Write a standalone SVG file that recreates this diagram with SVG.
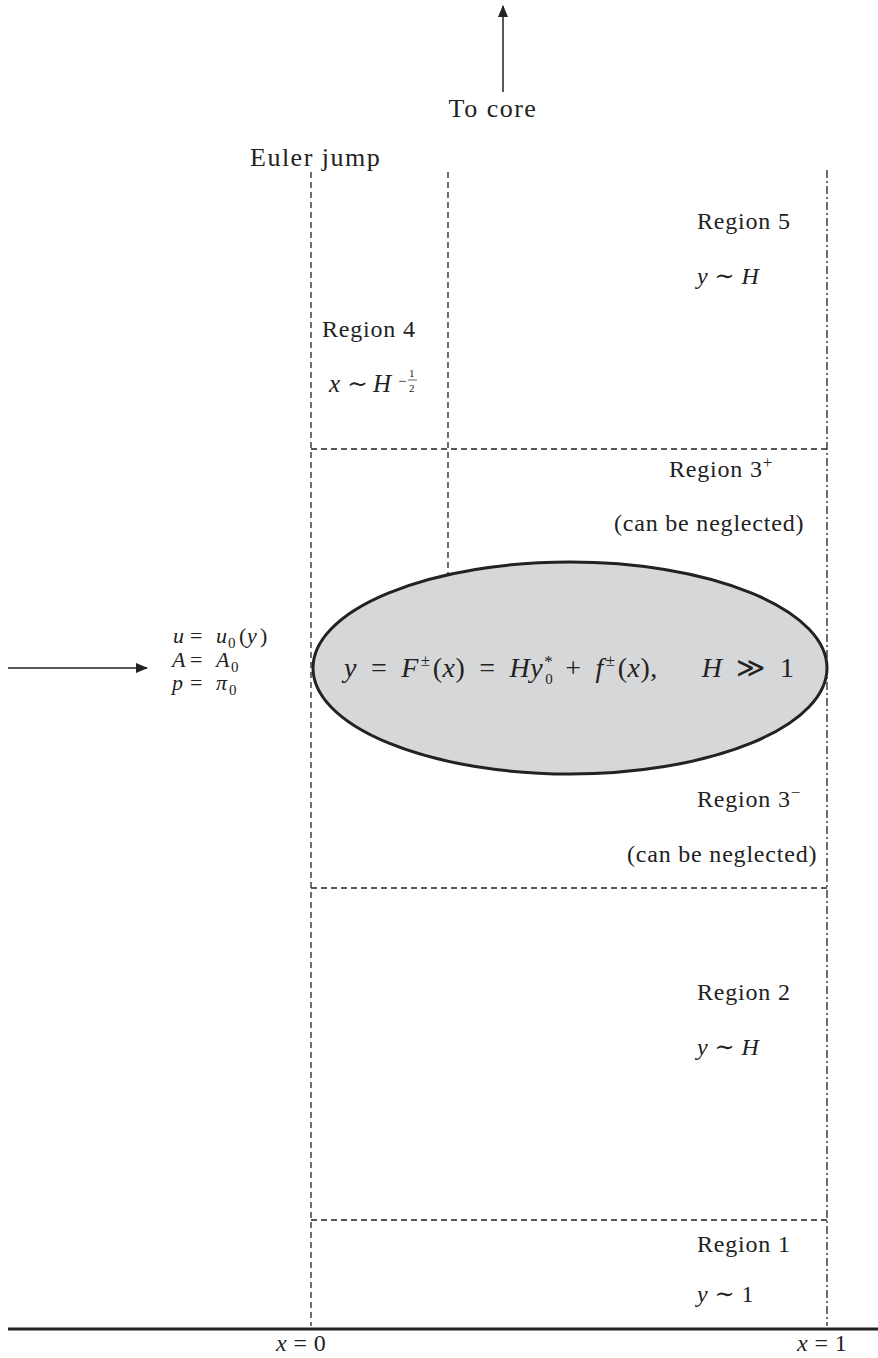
<svg xmlns="http://www.w3.org/2000/svg" width="878" height="1358" viewBox="0 0 878 1358" font-family="'Liberation Serif', 'Times New Roman', Tinos, 'DejaVu Serif', serif">
<style>
text{font-family:"Liberation Serif","Times New Roman",Tinos,"DejaVu Serif",serif;fill:#222;font-size:24px;letter-spacing:0.8px}
.i{font-style:italic}
.dash{stroke:#222;stroke-width:1.3;stroke-dasharray:6,4;fill:none}
.dd{stroke:#222;stroke-width:1.3;stroke-dasharray:8,3,2,3;fill:none}
.eq{font-size:28px;letter-spacing:0.5px}
.sup{font-size:17px}
.in{font-size:22px;letter-spacing:0px}
.sub{font-size:15px}
</style>
<defs>
<marker id="ah" markerWidth="12" markerHeight="10" refX="11" refY="5" orient="auto" markerUnits="userSpaceOnUse">
<path d="M0,0 L12,5 L0,10 Z" fill="#222"/>
</marker>
</defs>
<g id="connectors">
<line class="dash" x1="311" y1="172" x2="311" y2="1326"/>
<line class="dash" x1="448" y1="172" x2="448" y2="578"/>
<line class="dd" x1="827" y1="170" x2="827" y2="1326"/>
<line class="dash" x1="311" y1="449" x2="827" y2="449"/>
<line class="dash" x1="311" y1="888" x2="827" y2="888"/>
<line class="dash" x1="311" y1="1220" x2="827" y2="1220"/>
<line x1="8" y1="1329" x2="878" y2="1329" stroke="#222" stroke-width="3"/>
<line x1="8" y1="668" x2="147" y2="668" stroke="#222" stroke-width="1.5" marker-end="url(#ah)"/>
<line x1="503" y1="92" x2="503" y2="6" stroke="#222" stroke-width="1.5" marker-end="url(#ah)"/>
</g>
<g id="ellipse">
<ellipse cx="570" cy="668" rx="257" ry="106" fill="#d6d7d9" stroke="#222" stroke-width="3"/>
<text class="eq" x="344" y="677"><tspan class="i">y</tspan><tspan dx="14">=</tspan><tspan class="i" dx="14">F</tspan><tspan class="sup" dx="2" dy="-11">±</tspan><tspan dx="2" dy="11">(</tspan><tspan class="i">x</tspan><tspan>)</tspan><tspan dx="14">=</tspan><tspan class="i" dx="14">Hy</tspan><tspan class="sup" dx="1" dy="-10">*</tspan><tspan class="sub" dx="-8" dy="17">0</tspan><tspan dx="12" dy="-7">+</tspan><tspan class="i" dx="14">f</tspan><tspan class="sup" dx="2" dy="-11">±</tspan><tspan dx="2" dy="11">(</tspan><tspan class="i">x</tspan><tspan>),</tspan><tspan class="i" dx="44">H</tspan><tspan dx="14">≫</tspan><tspan dx="14">1</tspan></text>
</g>
<g id="top-labels">
<text x="493" y="117" text-anchor="middle" style="font-size:26px;letter-spacing:1.5px">To core</text>
<text x="250" y="166" style="font-size:26px;letter-spacing:1.5px">Euler jump</text>
</g>
<g id="inflow">
<text class="in"><tspan class="i" x="173" y="643">u</tspan><tspan x="190" y="643">=</tspan><tspan class="i" x="216" y="643">u</tspan><tspan class="sub" x="228" y="648">0</tspan><tspan x="239" y="643">(</tspan><tspan class="i" x="247" y="643">y</tspan><tspan x="260" y="643">)</tspan></text>
<text class="in"><tspan class="i" x="172" y="667">A</tspan><tspan x="190" y="667">=</tspan><tspan class="i" x="216" y="667">A</tspan><tspan class="sub" x="231" y="672">0</tspan></text>
<text class="in"><tspan class="i" x="172" y="690">p</tspan><tspan x="190" y="690">=</tspan><tspan class="i" x="216" y="690">π</tspan><tspan class="sub" x="229" y="695">0</tspan></text>
</g>
<g id="region5">
<text x="697" y="229">Region 5</text>
<text x="697" y="284"><tspan class="i">y</tspan><tspan dx="6">∼</tspan><tspan class="i" dx="6">H</tspan></text>
</g>
<g id="region4">
<text x="322" y="337">Region 4</text>
<text style="font-size:25px"><tspan class="i" x="329" y="392">x</tspan><tspan x="347" y="392">∼</tspan><tspan class="i" x="373" y="392">H</tspan><tspan x="398" y="386" style="font-size:15px">−</tspan><tspan x="409" y="377" style="font-size:11px">1</tspan><tspan x="409" y="392" style="font-size:11px">2</tspan></text>
<line x1="408" y1="380" x2="417" y2="380" stroke="#222" stroke-width="0.7"/>
</g>
<g id="region3p">
<text x="669" y="477">Region 3<tspan class="sup" dy="-9">+</tspan></text>
<text x="614" y="531">(can be neglected)</text>
</g>
<g id="region3m">
<text x="697" y="807">Region 3<tspan class="sup" dy="-9">−</tspan></text>
<text x="627" y="862">(can be neglected)</text>
</g>
<g id="region2">
<text x="697" y="1000">Region 2</text>
<text x="697" y="1055"><tspan class="i">y</tspan><tspan dx="6">∼</tspan><tspan class="i" dx="6">H</tspan></text>
</g>
<g id="region1">
<text x="697" y="1252">Region 1</text>
<text x="697" y="1302"><tspan class="i">y</tspan><tspan dx="6">∼</tspan><tspan dx="6">1</tspan></text>
</g>
<g id="axis-labels">
<text x="276" y="1351"><tspan class="i">x</tspan><tspan dx="6">=</tspan><tspan dx="6">0</tspan></text>
<text x="797" y="1351"><tspan class="i">x</tspan><tspan dx="6">=</tspan><tspan dx="6">1</tspan></text>
</g>
</svg>
